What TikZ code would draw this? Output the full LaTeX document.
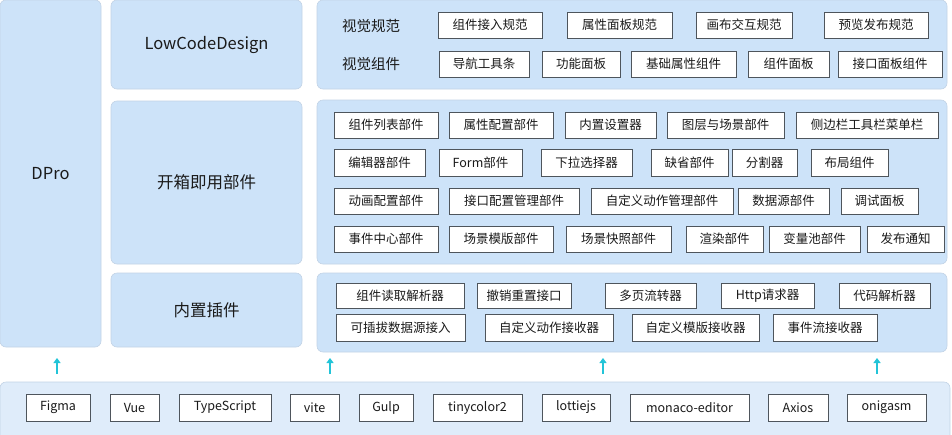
\documentclass[tikz,border=0pt]{standalone}
\usepackage{fontspec}
\setmainfont{Noto Sans CJK SC}
\usetikzlibrary{arrows.meta}
\definecolor{panelfill}{HTML}{CDE3F9}
\definecolor{paneldraw}{HTML}{C2D3E6}
\definecolor{basefill}{HTML}{DFECFA}
\definecolor{boxdraw}{HTML}{4E555C}
\definecolor{arrowc}{HTML}{22C4D8}
\definecolor{txt}{HTML}{1A1A1A}
\newcommand{\bbox}[6]{\node[bx, minimum width={#4-#2}, minimum height={#5-#3}] (#1) at ({(#2+#4)/2},{(#3+#5)/2}) {#6};}
\newcommand{\pbox}[7][pnl]{\node[#1, minimum width={#5-#3}, minimum height={#6-#4}] (#2) at ({(#3+#5)/2},{(#4+#6)/2}) {#7};}
\begin{document}
\begin{tikzpicture}[x=1pt,y=-1pt,
  bx/.style={draw=boxdraw, fill=white, line width=0.9pt, inner sep=0pt, text=txt, font=\fontsize{12.5}{14}\selectfont},
  pnl/.style={draw=paneldraw, fill=panelfill, line width=0.6pt, rounded corners=6pt, inner sep=0pt, text=txt, font=\fontsize{16.5}{19}\selectfont},
  basepnl/.style={pnl, fill=basefill},
  sub/.style={text=txt, font=\fontsize{14.5}{17}\selectfont, inner sep=0pt},
  arr/.style={draw=arrowc, line width=2.2pt, -{Triangle[width=7pt,length=5pt]}}]
\useasboundingbox (0,0) rectangle (952,434);
% panels
\pbox{dpro}{0}{0}{101}{347}{DPro}
\pbox{lcd}{111}{0}{302}{89}{LowCodeDesign}
\pbox{kx}{111}{101}{302}{264}{开箱即用部件}
\pbox{nz}{111}{273}{302}{347}{内置插件}
\pbox{p1}{317}{0}{947}{89}{}
\pbox{p2}{317}{100}{947}{264}{}
\pbox{p3}{317}{273}{947}{352}{}
\pbox[basepnl]{base}{0}{382}{950}{446}{}
% top panel
\node[sub] (sg1) at (371,26) {视觉规范};
\node[sub] (sg2) at (371,64) {视觉组件};
\bbox{a1}{438}{12}{542}{38}{组件接入规范}
\bbox{a2}{567}{12}{672}{38}{属性面板规范}
\bbox{a3}{696}{12}{792}{38}{画布交互规范}
\bbox{a4}{824}{12}{928}{38}{预览发布规范}
\bbox{b1}{439}{51}{529}{77}{导航工具条}
\bbox{b2}{542}{51}{620}{77}{功能面板}
\bbox{b3}{631}{51}{736}{77}{基础属性组件}
\bbox{b4}{748}{51}{829}{77}{组件面板}
\bbox{b5}{838}{51}{942}{77}{接口面板组件}
% middle panel
\bbox{c1}{334}{112}{438}{138}{组件列表部件}
\bbox{c2}{449}{112}{553}{138}{属性配置部件}
\bbox{c3}{565}{112}{656}{138}{内置设置器}
\bbox{c4}{667}{112}{784}{138}{图层与场景部件}
\bbox{c5}{796}{112}{938}{138}{侧边栏工具栏菜单栏}
\bbox{d1}{334}{149}{425}{176}{编辑器部件}
\bbox{d2}{439}{149}{522}{176}{Form部件}
\bbox{d3}{541}{149}{632}{176}{下拉选择器}
\bbox{d4}{651}{149}{728}{176}{缺省部件}
\bbox{d5}{732}{149}{797}{176}{分割器}
\bbox{d6}{811}{149}{888}{176}{布局组件}
\bbox{e1}{334}{188}{438}{214}{动画配置部件}
\bbox{e2}{449}{188}{579}{214}{接口配置管理部件}
\bbox{e3}{591}{188}{733}{214}{自定义动作管理部件}
\bbox{e4}{738}{188}{829}{214}{数据源部件}
\bbox{e5}{841}{188}{918}{214}{调试面板}
\bbox{f1}{334}{226}{438}{252}{事件中心部件}
\bbox{f2}{449}{226}{553}{252}{场景模版部件}
\bbox{f3}{566}{226}{671}{252}{场景快照部件}
\bbox{f4}{686}{226}{763}{252}{渲染部件}
\bbox{f5}{769}{226}{860}{252}{变量池部件}
\bbox{f6}{867}{226}{944}{252}{发布通知}
% plugin panel
\bbox{g1}{336}{283}{464}{308}{组件读取解析器}
\bbox{g2}{477}{283}{571}{308}{撤销重置接口}
\bbox{g3}{605}{283}{696}{308}{多页流转器}
\bbox{g4}{721}{283}{814}{308}{Http请求器}
\bbox{g5}{839}{283}{930}{308}{代码解析器}
\bbox{h1}{336}{314}{465}{341}{可插拔数据源接入}
\bbox{h2}{485}{314}{613}{341}{自定义动作接收器}
\bbox{h3}{632}{314}{759}{341}{自定义模版接收器}
\bbox{h4}{773}{314}{877}{341}{事件流接收器}
% base technologies
\bbox{t1}{26}{394}{90}{421}{Figma}
\bbox{t2}{110}{394}{159}{421}{Vue}
\bbox{t3}{179}{394}{271}{421}{TypeScript}
\bbox{t4}{290}{394}{339}{421}{vite}
\bbox{t5}{359}{394}{413}{421}{Gulp}
\bbox{t6}{433}{394}{522}{421}{tinycolor2}
\bbox{t7}{542}{394}{610}{421}{lottiejs}
\bbox{t8}{630}{394}{749}{421}{monaco-editor}
\bbox{t9}{768}{394}{828}{421}{Axios}
\bbox{t10}{847}{394}{926}{421}{onigasm}
% arrows
\coordinate (s1) at (57,374); \coordinate (e1a) at (57,358);
\coordinate (s2) at (330,374); \coordinate (e2a) at (330,358);
\coordinate (s3) at (603,374); \coordinate (e3a) at (603,358);
\coordinate (s4) at (877,374); \coordinate (e4a) at (877,358);
\draw[arr] (s1) -- (e1a);
\draw[arr] (s2) -- (e2a);
\draw[arr] (s3) -- (e3a);
\draw[arr] (s4) -- (e4a);
\end{tikzpicture}
\end{document}
